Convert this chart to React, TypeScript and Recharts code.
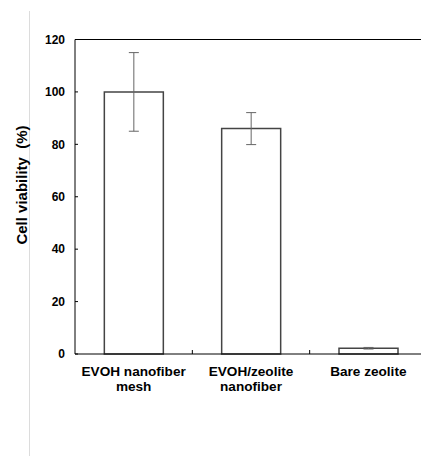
import { BarChart, Bar, XAxis, YAxis, ErrorBar, ReferenceLine } from "recharts";

const categories = [["EVOH nanofiber", "mesh"], ["EVOH/zeolite", "nanofiber"], ["Bare zeolite"]];
const viability = [100, 86, 2.2];
const errors = [15, 6.1, 0.3];
const yTicks = [0, 20, 40, 60, 80, 100, 120];

const W = 440;
const H = 456;
const M = { top: 39.5, right: 13, left: 0, bottom: 62 };
const Y_W = 75;
const X_H = 40;
const BAND = (W - M.left - M.right - Y_W) / categories.length;
const FONT = "Arial, 'Liberation Sans', sans-serif";

const data = categories.map((c, i) => ({
  name: c.join("\n"),
  value: viability[i],
  err: errors[i],
}));

function XTick(props: any) {
  const { x, y, payload, index } = props;
  const lines = String(payload.value).split("\n");
  return (
    <g>
      <text textAnchor="middle" fontFamily={FONT} fontWeight="bold" fontSize={13.6} fill="#000">
        {lines.map((l, k) => (
          <tspan key={k} x={x} y={y + 22 + k * 15}>{l}</tspan>
        ))}
      </text>
      {index < categories.length - 1 && (
        <line x1={x + BAND / 2} x2={x + BAND / 2} y1={y} y2={y - 4} stroke="#000" />
      )}
    </g>
  );
}

function YTick(props: any) {
  const { x, y, payload } = props;
  return (
    <g>
      <text x={x} y={y} dy="0.35em" textAnchor="end" fontFamily={FONT} fontWeight="bold" fontSize={12} fill="#000">
        {payload.value}
      </text>
      <line x1={x + 10} x2={x + 13} y1={y} y2={y} stroke="#000" />
    </g>
  );
}

export default function App() {
  return (
    <div style={{ position: "fixed", left: 0, top: 0, width: 421, height: 456, overflow: "hidden", background: "#fff" }}>
      <div style={{ position: "absolute", left: 29, top: 11, width: 1, height: 445, background: "#dcdcdc" }} />
      <div style={{ position: "absolute", left: 0, top: 0 }}>
        <BarChart width={W} height={H} data={data} margin={M} barCategoryGap="25%">
          <XAxis
            dataKey="name"
            height={X_H}
            interval={0}
            tickSize={0}
            tickMargin={0}
            tickLine={false}
            axisLine={{ stroke: "#000", strokeWidth: 1 }}
            tick={<XTick />}
          />
          <YAxis
            width={Y_W}
            domain={[0, 120]}
            ticks={yTicks}
            interval={0}
            tickSize={0}
            tickMargin={10}
            tickLine={false}
            axisLine={{ stroke: "#000", strokeWidth: 1 }}
            tick={<YTick />}
            label={{
              content: () => (
                <text
                  x={21}
                  y={185}
                  transform="rotate(-90 21 185)"
                  textAnchor="middle"
                  dominantBaseline="central"
                  fontFamily={FONT}
                  fontWeight="bold"
                  fontSize={15}
                  fill="#000"
                  style={{ whiteSpace: "pre" }}
                >
                  {"Cell viability  (%)"}
                </text>
              ),
            }}
          />
          <ReferenceLine y={120} stroke="#000" strokeWidth={1} />
          <Bar dataKey="value" fill="#fff" stroke="#444" strokeWidth={1.5} isAnimationActive={false}>
            <ErrorBar dataKey="err" width={5} stroke="#666" strokeWidth={1} direction="y" isAnimationActive={false} />
          </Bar>
        </BarChart>
      </div>
    </div>
  );
}
